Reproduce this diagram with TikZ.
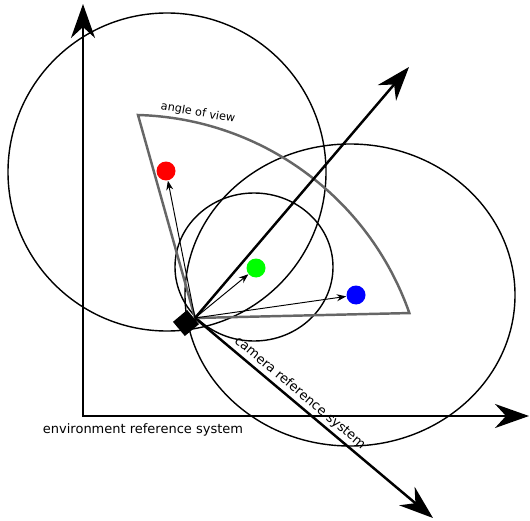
\documentclass[tikz,border=0pt]{standalone}
\usepackage{fontspec}
\setmainfont{DejaVu Sans}
\usetikzlibrary{arrows.meta}
\definecolor{fov}{HTML}{666666}
\definecolor{ptred}{HTML}{FF0000}
\definecolor{ptgreen}{HTML}{00FF00}
\definecolor{ptblue}{HTML}{0000FF}
\tikzset{bigtip/.tip={Stealth[length=6.8mm,width=4.8mm,inset=2.2mm]},
 axisarrow/.style={-bigtip,line width=1.4pt},
 envaxes/.style={bigtip-bigtip,line width=1.5pt},
 ring/.style={line width=0.8pt},
 fovline/.style={draw=fov,line width=1.4pt},
 rayarrow/.style={-{Stealth[length=1.9mm,width=1.4mm]},line width=0.55pt},
 ptdot/.style={circle,minimum size=0.38cm,inner sep=0pt},
 camsq/.style={fill=black,minimum size=0.37cm,inner sep=0pt,rotate=40}}

\begin{document}
\begin{tikzpicture}[x=0.02cm,y=-0.02cm,lbl/.style={font=\fontsize{7.4}{9}\selectfont}]
\useasboundingbox (0,0) rectangle (530,520);
\coordinate (o) at (83,416); \coordinate (ytip) at (83,4); \coordinate (xtip) at (529,416);
\coordinate (cam) at (195,318); \coordinate (c1tip) at (409,67); \coordinate (c2tip) at (433,518);
\coordinate (fovL) at (138,115);
\draw[ring] (167,172) circle[radius=159];
\draw[ring] (350,295) circle[x radius=165,y radius=151];
\draw[ring] (254,267) circle[x radius=79,y radius=74];
\draw[fovline] (cam) -- (fovL) arc[start angle=-88.45,end angle=-19.3,radius=296] -- cycle;
\node[font=\fontsize{6.4}{8}\selectfont,rotate=-10] (fovlbl) at (198,113) {angle of view};
\draw[envaxes] (ytip) -- (o) -- (xtip);
\draw[axisarrow] (cam) -- (c1tip); \draw[axisarrow] (cam) -- (c2tip);
\node[lbl] (envlbl) at (143,430) {environment reference system};
\node[lbl,rotate=-40] (camlbl) at (300,393) {camera reference system};
\node[ptdot,fill=ptred] (red) at (166,171) {};
\node[ptdot,fill=ptgreen] (green) at (256,268) {};
\node[ptdot,fill=ptblue] (blue) at (356,295) {};
\draw[rayarrow] (cam) -- (red); \draw[rayarrow] (cam) -- (green); \draw[rayarrow] (cam) -- (blue);
\node[camsq] (camera) at (186,323) {};
\end{tikzpicture}
\end{document}
